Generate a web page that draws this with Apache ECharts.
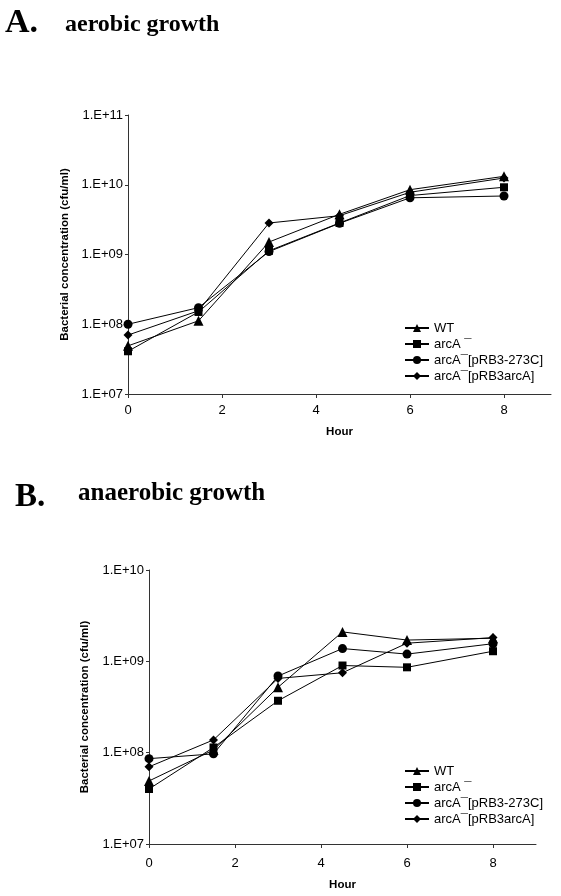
<!DOCTYPE html>
<html>
<head>
<meta charset="utf-8">
<script src="https://cdn.jsdelivr.net/npm/echarts@6/dist/echarts.min.js"></script>
<style>html,body{margin:0;padding:0;background:#fff}#c{width:561px;height:896px}</style>
</head>
<body>
<div id="c"></div>
<script>
// ---- data ----
const hours = [0, 1.5, 3, 4.5, 6, 8];
const seriesNames = ['WT', 'arcA \u00AF', 'arcA\u00AF[pRB3-273C]', 'arcA\u00AF[pRB3arcA]'];
const seriesSymbols = ['triangle', 'rect', 'circle', 'diamond'];
// A. aerobic growth (cfu/ml)
const aerobicWT      = [4.9e7, 1.12e8, 1.51e9, 3.77e9, 8.5e9, 1.32e10];
const aerobicArcA    = [4.1e7, 1.5e8, 1.13e9, 2.83e9, 7.0e9, 9.2e9];
const aerobic273C    = [1.0e8, 1.73e8, 1.1e9, 2.8e9, 6.5e9, 6.9e9];
const aerobicArcAPl  = [7.0e7, 1.56e8, 2.83e9, 3.6e9, 7.8e9, 1.25e10];
// B. anaerobic growth (cfu/ml)
const anaerobicWT     = [4.9e7, 1.07e8, 5.2e8, 2.1e9, 1.71e9, 1.79e9];
const anaerobicArcA   = [4.0e7, 1.14e8, 3.7e8, 9.0e8, 8.6e8, 1.29e9];
const anaerobic273C   = [8.6e7, 9.7e7, 6.9e8, 1.38e9, 1.2e9, 1.56e9];
const anaerobicArcAPl = [7.0e7, 1.38e8, 6.5e8, 7.5e8, 1.58e9, 1.82e9];
const xTicks = [0, 2, 4, 6, 8];
const titleA = ['A.', 'aerobic growth'];
const titleB = ['B.', 'anaerobic growth'];
const yName = 'Bacterial concentration (cfu/ml)';
const xName = 'Hour';

const sans = 'Liberation Sans';
const serif = 'Liberation Serif';
const symSize = {triangle: 10, rect: 8, circle: 9, diamond: 9};

function mkSeries(arrs, idx) {
  return arrs.map((vals, i) => ({
    name: seriesNames[i],
    type: 'line',
    xAxisIndex: idx, yAxisIndex: idx,
    data: hours.map((h, k) => [h, vals[k]]),
    symbol: seriesSymbols[i],
    symbolSize: symSize[seriesSymbols[i]],
    showAllSymbol: true,
    lineStyle: {color: '#000', width: 1},
    itemStyle: {color: '#000'},
    animation: false,
    z: 10 - i
  }));
}
function logLabel(v) {
  const e = Math.round(Math.log10(v));
  return '1.E+' + String(e).padStart(2, '0');
}
function xAxis(idx, gap, margin) {
  return {
    type: 'value', gridIndex: idx, min: 0, max: 9,
    axisLine: {lineStyle: {color: '#333', width: 1}},
    axisTick: {customValues: xTicks, length: 4, lineStyle: {color: '#333'}},
    axisLabel: {customValues: xTicks, color: '#000', fontFamily: sans, fontSize: 13, margin: margin},
    splitLine: {show: false},
    name: xName, nameLocation: 'middle', nameGap: gap,
    nameTextStyle: {color: '#000', fontFamily: sans, fontSize: 11.5, fontWeight: 'bold'}
  };
}
function yAxis(idx, max, gap) {
  return {
    type: 'log', logBase: 10, gridIndex: idx, min: 1e7, max: max,
    axisLine: {show: true, lineStyle: {color: '#333', width: 1}},
    axisTick: {show: true, length: 3, lineStyle: {color: '#333'}},
    axisLabel: {formatter: logLabel, color: '#000', fontFamily: sans, fontSize: 13, margin: 5},
    splitLine: {show: false},
    minorTick: {show: false},
    name: yName, nameLocation: 'middle', nameGap: gap,
    nameTextStyle: {color: '#000', fontFamily: sans, fontSize: 11.5, fontWeight: 'bold'}
  };
}
function legend(top) {
  return {
    orient: 'vertical', left: 399, top: top,
    data: seriesNames, itemWidth: 24, itemHeight: 10, itemGap: 2,
    selectedMode: false,
    textStyle: {color: '#000', fontFamily: sans, fontSize: 13, lineHeight: 14}
  };
}

const chart = echarts.init(document.getElementById('c'), null, {renderer: 'canvas'});
chart.setOption({
  backgroundColor: '#fff',
  animation: false,
  title: [
    {text: titleA[0], left: 5, top: 6, padding: 0, textStyle: {fontFamily: serif, fontSize: 34, fontWeight: 'bold', color: '#000'}},
    {text: titleA[1], left: 65, top: 13, padding: 0, textStyle: {fontFamily: serif, fontSize: 24, fontWeight: 'bold', color: '#000'}},
    {text: titleB[0], left: 15, top: 481, padding: 0, textStyle: {fontFamily: serif, fontSize: 33, fontWeight: 'bold', color: '#000'}},
    {text: titleB[1], left: 78, top: 481, padding: 0, textStyle: {fontFamily: serif, fontSize: 25, fontWeight: 'bold', color: '#000'}}
  ],
  grid: [
    {left: 128, right: 10, top: 115, height: 279},
    {left: 149, right: 25, top: 570, height: 274}
  ],
  xAxis: [xAxis(0, 32, 10), xAxis(1, 35, 13)],
  yAxis: [yAxis(0, 1e11, 54), yAxis(1, 1e10, 58)],
  legend: [legend(316), legend(759)],
  series: mkSeries([aerobicWT, aerobicArcA, aerobic273C, aerobicArcAPl], 0)
    .concat(mkSeries([anaerobicWT, anaerobicArcA, anaerobic273C, anaerobicArcAPl], 1))
});
</script>
</body>
</html>
